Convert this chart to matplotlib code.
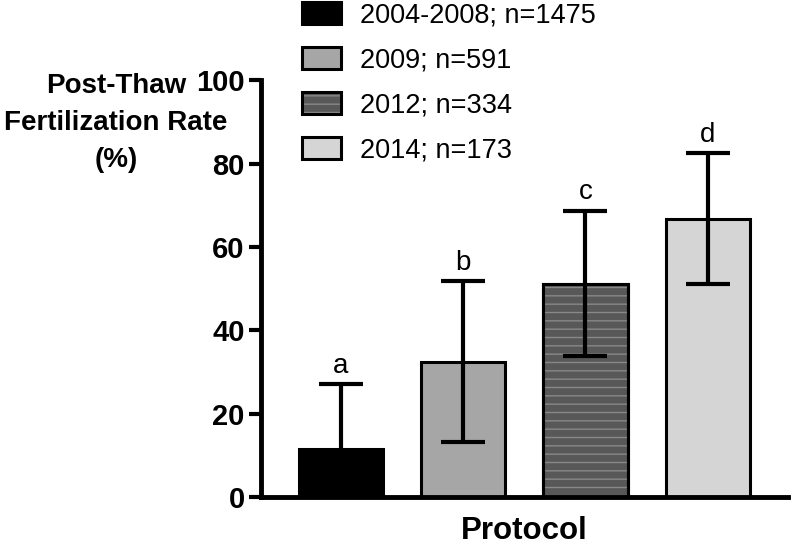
import matplotlib
matplotlib.use("Agg")
import matplotlib.pyplot as plt
from matplotlib.patches import Patch
from matplotlib.legend_handler import HandlerTuple

plt.rcParams["font.family"] = ["Liberation Sans", "DejaVu Sans"]
plt.rcParams["hatch.linewidth"] = 1.0

# values
labels = ["2004-2008; n=1475", "2009; n=591", "2012; n=334", "2014; n=173"]
means = [11.6, 32.5, 51.2, 66.8]
sds = [15.4, 19.3, 17.4, 15.7]
letters = ["a", "b", "c", "d"]
colors = ["#000000", "#a6a6a6", "#585858", "#d5d5d5"]
hatches = [None, None, "--", None]
ylabel_lines = ["Post-Thaw", "Fertilization Rate", "(%)"]

fig = plt.figure(figsize=(7.92, 5.45), dpi=100)
ax = fig.add_axes([0.330, 0.088, 0.665, 0.765])

x = list(range(len(means)))
width = 0.69

ax.bar(x, means, width=width, color=colors, edgecolor="black", linewidth=2.2, zorder=2)
# lighter stripes on the dark bar
for xi, m, h in zip(x, means, hatches):
    if h:
        ax.bar(xi, m, width=width, color="none", edgecolor="#888888", hatch=h,
               linewidth=0, zorder=2.5)
        ax.bar(xi, m, width=width, fill=False, edgecolor="black", linewidth=2.2, zorder=2.6)

ax.errorbar(x, means, yerr=sds, fmt="none", ecolor="black", elinewidth=3,
            capsize=16, capthick=3, zorder=3)

for xi, m, s, t in zip(x, means, sds, letters):
    ax.annotate(t, (xi, m + s), xytext=(0, 4), textcoords="offset points",
                ha="center", va="bottom", fontsize=20)

ax.set_xlim(-0.65, 3.656)
ax.set_ylim(0, 100)
ax.set_yticks([0, 20, 40, 60, 80, 100])
ax.set_xticks([])
for side in ("top", "right"):
    ax.spines[side].set_visible(False)
for side in ("left", "bottom"):
    ax.spines[side].set_linewidth(3.5)
ax.spines["left"].set_capstyle("projecting")
ax.tick_params(axis="y", length=9, width=3, pad=3, labelsize=21)
for lab in ax.get_yticklabels():
    lab.set_fontweight("bold")
ax.set_xlabel("Protocol", fontsize=22.5, fontweight="bold", labelpad=14)

# y title drawn line by line, centred at the same x
for i, line in enumerate(ylabel_lines):
    fig.text(116 / 792, 1 - (93 + 37 * i) / 545, line, ha="center", va="baseline",
             fontsize=20, fontweight="bold")

handles = []
for c, h in zip(colors, hatches):
    if h:
        handles.append((Patch(facecolor=c, edgecolor="#888888", hatch=h, linewidth=0),
                        Patch(fill=False, edgecolor="black", linewidth=2.2)))
    else:
        handles.append(Patch(facecolor=c, edgecolor="black", linewidth=2.2))

fig.legend(handles, labels, loc="upper left", bbox_to_anchor=(302 / 792, 1 - 2 / 545),
           frameon=False, fontsize=19.5, handlelength=1.45, handleheight=0.85,
           handletextpad=0.7, labelspacing=0.7, borderpad=0, borderaxespad=0,
           handler_map={tuple: HandlerTuple(ndivide=1, pad=0)})

fig.savefig("out.png", dpi=100)
